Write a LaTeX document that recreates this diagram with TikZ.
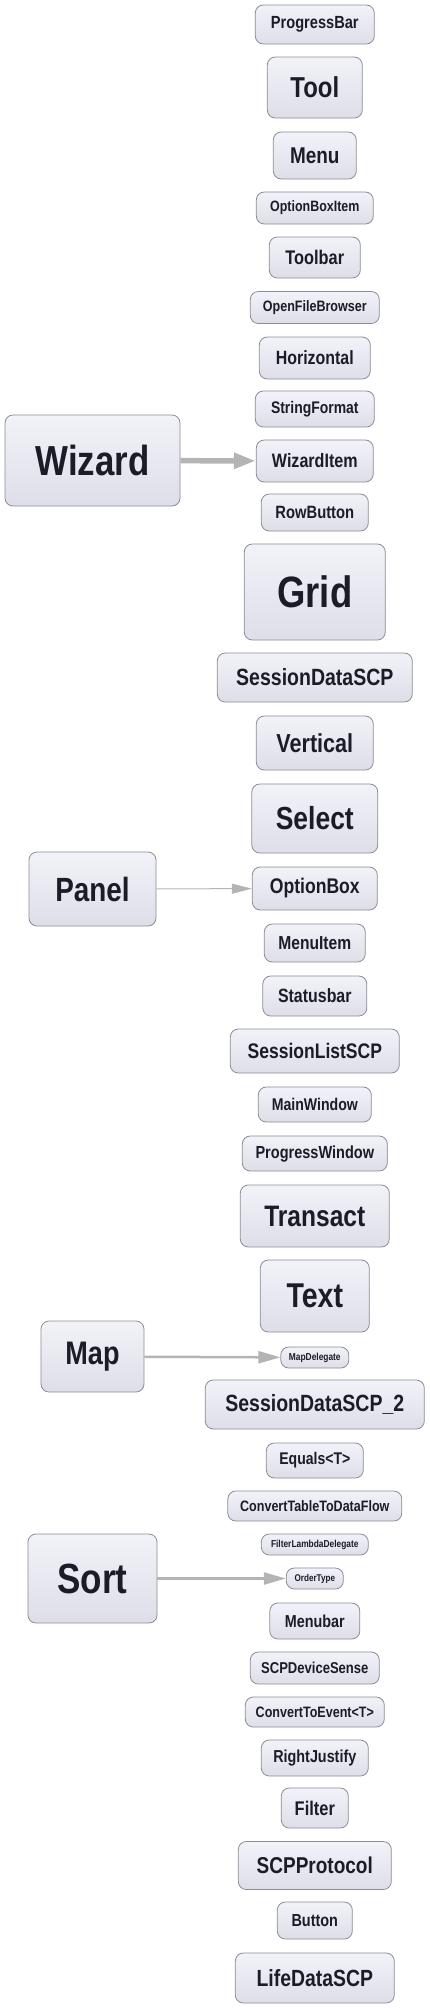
\documentclass[tikz,border=0pt]{standalone}
\usepackage{fontspec}
\setmainfont{Liberation Sans}[FakeStretch=0.83]
\usetikzlibrary{arrows.meta}

\definecolor{boxtop}{HTML}{F2F2F9}
\definecolor{boxbot}{HTML}{DEDEE8}
\definecolor{boxline}{HTML}{8C8C96}
\definecolor{boxtext}{HTML}{1C1C28}
\definecolor{linkgray}{HTML}{B4B4B4}

\begin{document}
\begin{tikzpicture}[x=1pt, y=-1pt,
    box/.style={draw=boxline, line width=0.8pt, rounded corners=8pt,
        top color=boxtop, bottom color=boxbot, text=boxtext, inner sep=0pt},
    fs/.style={font=\fontsize{#1}{#1}\selectfont\bfseries},
    link/.style={draw=linkgray, -{Triangle[length=22pt, width=12pt]}}]
    \useasboundingbox (0,0) rectangle (429,2008);

    % Left column
    \node[box, fs=42, minimum width=175, minimum height=91] (wizard) at (92.5,460.5) {Wizard};
    \node[box, fs=33.6, minimum width=127, minimum height=74] (panel) at (92.5,889) {Panel};
    \node[box, fs=32.6, minimum width=103, minimum height=71] (map) at (92.5,1356.5) {Map};
    \node[box, fs=42.2, minimum width=129, minimum height=89] (sort) at (92.5,1578.5) {Sort};

    % Right column
    \node[box, fs=17.6, minimum width=119, minimum height=39] (progressbar) at (314.8,24.5) {ProgressBar};
    \node[box, fs=28.8, minimum width=95, minimum height=61] (tool) at (314.8,87.5) {Tool};
    \node[box, fs=22.8, minimum width=83, minimum height=47] (menu) at (314.8,155.5) {Menu};
    \node[box, fs=15, minimum width=117, minimum height=32] (optionboxitem) at (314.8,208) {OptionBoxItem};
    \node[box, fs=19.7, minimum width=91, minimum height=41] (toolbar) at (314.8,257.5) {Toolbar};
    \node[box, fs=15.1, minimum width=129, minimum height=32] (openfilebrowser) at (314.8,307.5) {OpenFileBrowser};
    \node[box, fs=19.2, minimum width=111, minimum height=42] (horizontal) at (314.8,358) {Horizontal};
    \node[box, fs=16.8, minimum width=119, minimum height=36] (stringformat) at (314.8,409) {StringFormat};
    \node[box, fs=19.4, minimum width=117, minimum height=42] (wizarditem) at (314.8,461) {WizardItem};
    \node[box, fs=17.8, minimum width=107, minimum height=37] (rowbutton) at (314.8,512.5) {RowButton};
    \node[box, fs=43.9, minimum width=141, minimum height=96] (grid) at (314.8,592) {Grid};
    \node[box, fs=23.5, minimum width=195, minimum height=49] (sessiondatascp) at (314.8,677.5) {SessionDataSCP};
    \node[box, fs=26, minimum width=117, minimum height=54] (vertical) at (314.8,743) {Vertical};
    \node[box, fs=31.9, minimum width=126, minimum height=69] (select) at (314.8,818.5) {Select};
    \node[box, fs=21.2, minimum width=125, minimum height=43] (optionbox) at (314.8,888.5) {OptionBox};
    \node[box, fs=18.8, minimum width=101, minimum height=38] (menuitem) at (314.8,943) {MenuItem};
    \node[box, fs=19.2, minimum width=104, minimum height=40] (statusbar) at (314.8,996) {Statusbar};
    \node[box, fs=21.1, minimum width=169, minimum height=44] (sessionlistscp) at (314.8,1051) {SessionListSCP};
    \node[box, fs=17, minimum width=113, minimum height=35] (mainwindow) at (314.8,1104.5) {MainWindow};
    \node[box, fs=17.5, minimum width=145, minimum height=35] (progresswindow) at (314.8,1153.5) {ProgressWindow};
    \node[box, fs=29.6, minimum width=149, minimum height=62] (transact) at (314.8,1216) {Transact};
    \node[box, fs=34.4, minimum width=109, minimum height=72] (text) at (314.8,1296) {Text};
    \node[box, fs=10.1, minimum width=68, minimum height=21] (mapdelegate) at (314.8,1357.5) {MapDelegate};
    \node[box, fs=23.5, minimum width=219, minimum height=49] (sessiondatascp2) at (314.8,1404.5) {SessionDataSCP\_2};
    \node[box, fs=16.9, minimum width=97, minimum height=35] (equals) at (314.8,1460.5) {Equals<T>};
    \node[box, fs=15.1, minimum width=174, minimum height=30] (converttable) at (314.8,1506) {ConvertTableToDataFlow};
    \node[box, fs=10.1, minimum width=107, minimum height=21] (filterlambda) at (314.8,1544.5) {FilterLambdaDelegate};
    \node[box, fs=9.8, minimum width=57, minimum height=21] (ordertype) at (314.8,1578.5) {OrderType};
    \node[box, fs=17.3, minimum width=90, minimum height=36] (menubar) at (314.8,1621) {Menubar};
    \node[box, fs=15.7, minimum width=129, minimum height=32] (scpdevicesense) at (314.8,1668) {SCPDeviceSense};
    \node[box, fs=15.1, minimum width=139, minimum height=30] (converttoevent) at (314.8,1712) {ConvertToEvent<T>};
    \node[box, fs=17.3, minimum width=107, minimum height=36] (rightjustify) at (314.8,1758) {RightJustify};
    \node[box, fs=19.8, minimum width=67, minimum height=40] (filter) at (314.8,1808) {Filter};
    \node[box, fs=22.9, minimum width=153, minimum height=48] (scpprotocol) at (314.8,1865.5) {SCPProtocol};
    \node[box, fs=17.4, minimum width=75, minimum height=37] (button) at (314.8,1920.5) {Button};
    \node[box, fs=23.4, minimum width=159, minimum height=50] (lifedatascp) at (314.8,1978) {LifeDataSCP};

    % Links
    \draw[link, line width=5.5pt, -{Triangle[length=22pt, width=15pt]}] (wizard) -- (wizarditem);
    \draw[link, line width=1pt, -{Triangle[length=20pt, width=10pt]}] (panel) -- (optionbox);
    \draw[link, line width=2.5pt] (map) -- (mapdelegate);
    \draw[link, line width=2.5pt] (sort) -- (ordertype);
\end{tikzpicture}
\end{document}
